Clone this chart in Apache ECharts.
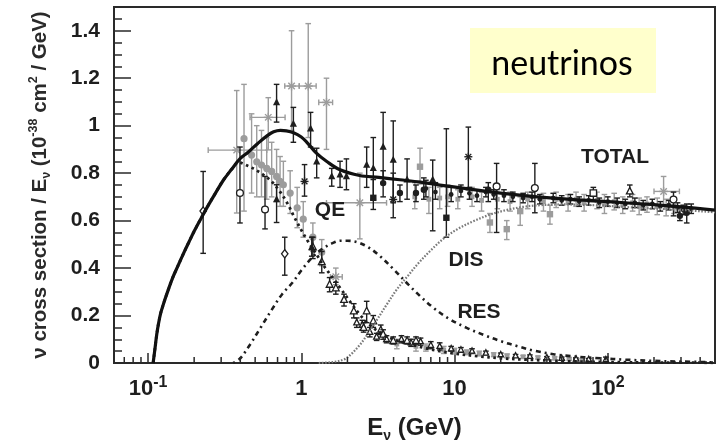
<!DOCTYPE html>
<html>
<head>
<meta charset="utf-8">
<script src="https://cdn.jsdelivr.net/npm/echarts@6/dist/echarts.min.js"></script>
<style>
  html, body { margin: 0; padding: 0; background: #ffffff; }
  #chart { width: 722px; height: 448px; }
</style>
</head>
<body>
<div id="chart"></div>
<script>
// ---- Model curves: neutrino energy (GeV) and cross section / E (1e-38 cm^2/GeV)
const totalE = [0.108, 0.111, 0.114, 0.117, 0.121, 0.127, 0.135, 0.145, 0.157, 0.17, 0.185, 0.2, 0.22, 0.245, 0.275, 0.31, 0.35, 0.4, 0.45, 0.52, 0.6, 0.66, 0.73, 0.8, 0.89, 1.0, 1.08, 1.26, 1.46, 1.79, 2.4, 3.2, 4.4, 6.0, 9.3, 20, 42, 89, 190, 500];
const totalV = [0, 0.06, 0.12, 0.165, 0.21, 0.255, 0.305, 0.36, 0.41, 0.46, 0.51, 0.555, 0.605, 0.66, 0.715, 0.77, 0.815, 0.862, 0.888, 0.925, 0.958, 0.974, 0.98, 0.978, 0.97, 0.952, 0.932, 0.883, 0.85, 0.814, 0.79, 0.782, 0.772, 0.762, 0.744, 0.716, 0.696, 0.682, 0.668, 0.644];

const qeE = [0.108, 0.111, 0.114, 0.117, 0.121, 0.127, 0.135, 0.145, 0.157, 0.17, 0.185, 0.2, 0.22, 0.245, 0.275, 0.31, 0.35, 0.39, 0.45, 0.5, 0.56, 0.64, 0.72, 0.8, 0.9, 1.0, 1.1, 1.25, 1.4, 1.6, 1.8, 2.1, 2.4, 2.8, 3.4, 4.2, 5.1, 6.5, 8, 10, 14, 20, 30, 50, 100, 200, 500];
const qeV = [0, 0.06, 0.12, 0.165, 0.21, 0.255, 0.305, 0.36, 0.41, 0.46, 0.51, 0.555, 0.605, 0.66, 0.715, 0.77, 0.815, 0.845, 0.83, 0.815, 0.795, 0.765, 0.725, 0.68, 0.615, 0.56, 0.515, 0.46, 0.41, 0.36, 0.315, 0.255, 0.205, 0.16, 0.12, 0.095, 0.079, 0.062, 0.05, 0.04, 0.029, 0.02, 0.014, 0.008, 0.004, 0.002, 0.001];

const resE = [0.36, 0.4, 0.46, 0.55, 0.65, 0.75, 0.88, 1.0, 1.2, 1.4, 1.6, 1.8, 2.0, 2.3, 2.7, 3.2, 4.0, 5.0, 6.0, 7.2, 9, 12, 16, 20, 26, 33, 45, 55, 70, 90, 130, 200, 300, 500];
const resV = [0, 0.02, 0.075, 0.155, 0.23, 0.29, 0.34, 0.39, 0.45, 0.485, 0.505, 0.515, 0.515, 0.51, 0.49, 0.455, 0.395, 0.33, 0.28, 0.235, 0.19, 0.148, 0.115, 0.092, 0.07, 0.052, 0.036, 0.03, 0.024, 0.02, 0.014, 0.009, 0.006, 0.003];

const disE = [1.3, 1.6, 1.9, 2.1, 2.4, 2.7, 3.1, 3.6, 4.2, 5.0, 5.8, 7.0, 8.5, 10.5, 13, 17, 22, 28, 36, 50, 80, 150, 300, 500];
const disV = [0, 0.004, 0.015, 0.035, 0.075, 0.12, 0.18, 0.245, 0.31, 0.37, 0.42, 0.475, 0.525, 0.565, 0.595, 0.625, 0.645, 0.658, 0.665, 0.668, 0.665, 0.655, 0.645, 0.635];

// ---- Measurements: [E, value, errLow, errHigh, (E low, E high)]
const blackTri = [
  [0.69, 1.098, 1.015, 1.174], [0.69, 0.689, 0.592, 0.751], [0.888, 1.007, 0.93, 1.077],
  [1.15, 0.987, 0.91, 1.056], [1.26, 0.848, 0.78, 0.905], [1.58, 0.786, 0.745, 0.82],
  [1.79, 0.793, 0.74, 0.85], [1.97, 0.786, 0.73, 0.86], [2.67, 0.834, 0.74, 0.91],
  [2.95, 0.82, 0.69, 0.95], [3.42, 0.91, 0.758, 1.056], [3.98, 0.855, 0.675, 1.02],
  [4.9, 0.772, 0.69, 0.86], [7.2, 0.772, 0.557, 0.855], [1.17, 0.488, 0.45, 0.53]
];
const blackDot = [
  [3.42, 0.758, 0.70, 0.81], [4.4, 0.716, 0.68, 0.75], [5.6, 0.716, 0.68, 0.75],
  [6.3, 0.73, 0.69, 0.78], [16.6, 0.73, 0.68, 0.76], [295, 0.62, 0.60, 0.66], [327, 0.633, 0.59, 0.67]
];
const blackSq = [[2.95, 0.696, 0.647, 0.773], [8.84, 0.612, 0.53, 0.987]];
const blackRing = [
  [0.398, 0.716, 0.59, 0.91], [0.58, 0.647, 0.565, 0.786], [18.8, 0.744, 0.55, 0.841],
  [33.4, 0.737, 0.633, 0.841], [268, 0.689, 0.62, 0.72]
];
const blackDiamond = [[0.229, 0.64, 0.462, 0.807], [0.78, 0.46, 0.37, 0.53]];
const blackOpenSq = [[80.4, 0.716, 0.68, 0.74]];
const blackStar = [[1.05, 0.765, 0.703, 0.836], [3.98, 0.689, 0.612, 0.80], [12.3, 0.869, 0.73, 0.994]];
const qeOpenTri = [
  [1.19, 0.488, 0.44, 0.53], [1.36, 0.425, 0.38, 0.47], [1.53, 0.33, 0.30, 0.36],
  [1.68, 0.315, 0.29, 0.34], [1.9, 0.266, 0.24, 0.29], [2.2, 0.218, 0.19, 0.25],
  [2.67, 0.218, 0.17, 0.26], [2.55, 0.148, 0.13, 0.17], [2.95, 0.176, 0.15, 0.20],
  [3.42, 0.12, 0.10, 0.14], [3.98, 0.093, 0.08, 0.11], [4.9, 0.093, 0.08, 0.11],
  [5.6, 0.093, 0.08, 0.11], [139, 0.723, 0.70, 0.75]
];
const qeMidBlack = [
  [2.3, 0.17, 0.15, 0.19], [2.5, 0.16, 0.14, 0.18], [2.8, 0.13, 0.11, 0.15],
  [3.1, 0.11, 0.095, 0.125], [3.3, 0.14, 0.12, 0.16], [3.6, 0.10, 0.085, 0.115]
];
const greyDot = [
  [0.423, 0.945, 0.64, 1.174], [0.474, 0.876, 0.716, 1.05], [0.512, 0.848, 0.70, 1.0],
  [0.55, 0.834, 0.70, 0.98], [0.595, 0.82, 0.69, 0.95], [0.641, 0.807, 0.70, 0.93],
  [0.69, 0.786, 0.68, 0.90], [0.727, 0.765, 0.66, 0.87], [0.764, 0.751, 0.66, 0.85],
  [0.846, 0.716, 0.63, 0.81], [0.94, 0.654, 0.57, 0.74], [1.03, 0.606, 0.53, 0.68],
  [1.19, 0.53, 0.47, 0.59], [1.36, 0.467, 0.41, 0.52]
];
const greyStar = [
  [0.379, 0.897, 0.632, 1.148, 0.247, 0.595], [0.609, 1.035, 0.898, 1.118, 0.463, 0.784],
  [0.864, 1.167, 0.98, 1.40, 0.78, 0.97], [1.11, 1.167, 0.95, 1.43, 0.97, 1.25],
  [1.46, 1.098, 0.90, 1.20, 1.30, 1.60], [1.68, 0.363, 0.33, 0.40, 1.55, 1.85],
  [2.41, 0.675, 0.523, 0.80, 1.46, 3.6], [231, 0.723, 0.66, 0.786, 200, 293]
];
const greySq = [
  [5.95, 0.827, 0.754, 0.905], [17.0, 0.592, 0.55, 0.63], [21.9, 0.564, 0.52, 0.60],
  [26.8, 0.64, 0.58, 0.70], [41.9, 0.627, 0.585, 0.665]
];
const blackHi = [
  [6.5, 0.735, 0.70, 0.77], [7.5, 0.72, 0.69, 0.76], [9.5, 0.71, 0.68, 0.74], [11, 0.725, 0.70, 0.75],
  [12.5, 0.715, 0.69, 0.74], [14, 0.705, 0.68, 0.73], [16, 0.72, 0.70, 0.74], [18, 0.71, 0.69, 0.73],
  [21, 0.705, 0.68, 0.73], [24, 0.70, 0.68, 0.72], [28, 0.695, 0.675, 0.715], [32, 0.70, 0.68, 0.72],
  [36, 0.69, 0.67, 0.71], [44, 0.695, 0.675, 0.715], [50, 0.685, 0.665, 0.705], [57, 0.69, 0.67, 0.71],
  [65, 0.68, 0.66, 0.70], [75, 0.685, 0.665, 0.705], [88, 0.675, 0.655, 0.695], [100, 0.68, 0.66, 0.70],
  [115, 0.675, 0.655, 0.695], [130, 0.67, 0.65, 0.69], [150, 0.675, 0.655, 0.695], [170, 0.665, 0.645, 0.685],
  [195, 0.67, 0.65, 0.69], [220, 0.66, 0.64, 0.68], [250, 0.665, 0.645, 0.685], [285, 0.655, 0.635, 0.675],
  [310, 0.645, 0.625, 0.665], [350, 0.65, 0.63, 0.67]
];
const greyHi = [
  [5.5, 0.70, 0.65, 0.76], [6.8, 0.69, 0.63, 0.74], [8, 0.695, 0.65, 0.74], [9, 0.70, 0.66, 0.75],
  [10.5, 0.69, 0.65, 0.73], [13, 0.70, 0.66, 0.74], [15, 0.685, 0.64, 0.72], [19, 0.69, 0.65, 0.73],
  [23, 0.68, 0.64, 0.72], [30, 0.69, 0.65, 0.72], [38, 0.68, 0.64, 0.715], [46, 0.69, 0.655, 0.72],
  [55, 0.675, 0.64, 0.71], [62, 0.69, 0.66, 0.72], [70, 0.675, 0.64, 0.71], [85, 0.685, 0.65, 0.72],
  [95, 0.67, 0.63, 0.71], [110, 0.68, 0.645, 0.715], [125, 0.665, 0.63, 0.70], [145, 0.675, 0.64, 0.71],
  [160, 0.66, 0.625, 0.695], [180, 0.67, 0.635, 0.70], [210, 0.66, 0.625, 0.695], [240, 0.655, 0.62, 0.69],
  [270, 0.66, 0.63, 0.69]
];
const qeHiBlack = [
  [4.5, 0.10, 0.085, 0.115], [5.2, 0.085, 0.07, 0.10], [6.0, 0.09, 0.075, 0.105], [7.0, 0.075, 0.06, 0.09],
  [8.0, 0.07, 0.055, 0.085], [9.5, 0.06, 0.05, 0.07], [11, 0.055, 0.045, 0.065], [13, 0.05, 0.04, 0.06],
  [16, 0.042, 0.035, 0.05], [20, 0.035, 0.028, 0.042], [25, 0.03, 0.024, 0.036], [31, 0.028, 0.022, 0.034],
  [40, 0.022, 0.017, 0.027], [50, 0.02, 0.015, 0.025], [62, 0.017, 0.013, 0.021], [75, 0.015, 0.011, 0.019],
  [97, 0.014, 0.005, 0.025]
];
const qeHiGrey = [
  [4.2, 0.08, 0.06, 0.10], [5.6, 0.07, 0.05, 0.09], [6.5, 0.065, 0.05, 0.08], [8.5, 0.055, 0.04, 0.07],
  [10, 0.05, 0.038, 0.062], [12, 0.045, 0.035, 0.055], [14.5, 0.04, 0.03, 0.05], [18, 0.035, 0.027, 0.043],
  [22, 0.03, 0.022, 0.038], [28, 0.026, 0.02, 0.032], [35, 0.023, 0.017, 0.029], [45, 0.02, 0.014, 0.026],
  [56, 0.017, 0.012, 0.022], [68, 0.014, 0.01, 0.018]
];

// ---- Axis ticks and labels
const xTickExp = [-1, 0, 1, 2];
const xTickText = ['10{sup|-1}', '1', '10', '10{sup|2}'];
const xMinorTicks = [0.07, 0.08, 0.09, 0.2, 0.3, 0.4, 0.5, 0.6, 0.7, 0.8, 0.9, 2, 3, 4, 5, 6, 7, 8, 9, 20, 30, 40, 50, 60, 70, 80, 90, 200, 300, 400];
const yTickText = ['0', '0.2', '0.4', '0.6', '0.8', '1', '1.2', '1.4'];

const INK = '#1e1e1e';
const GREY = '#9c9c9c';
const FONT = '"Liberation Sans", Arial, Helvetica, sans-serif';

function markerShapes(kind, x, y, r, color) {
  const line = (x1, y1, x2, y2) => ({ type: 'line', shape: { x1, y1, x2, y2 }, style: { stroke: color, lineWidth: 1.4 } });
  switch (kind) {
    case 'tri':
      return [{ type: 'polygon', shape: { points: [[x, y - r * 1.25], [x - r * 1.05, y + r * 0.8], [x + r * 1.05, y + r * 0.8]] }, style: { fill: color } }];
    case 'triOpen':
      return [{ type: 'polygon', shape: { points: [[x, y - r * 1.25], [x - r * 1.05, y + r * 0.8], [x + r * 1.05, y + r * 0.8]] }, style: { fill: '#fff', stroke: color, lineWidth: 1.3 } }];
    case 'dot':
      return [{ type: 'circle', shape: { cx: x, cy: y, r: r }, style: { fill: color } }];
    case 'ring':
      return [{ type: 'circle', shape: { cx: x, cy: y, r: r }, style: { fill: '#fff', stroke: color, lineWidth: 1.3 } }];
    case 'sq':
      return [{ type: 'rect', shape: { x: x - r, y: y - r, width: 2 * r, height: 2 * r }, style: { fill: color } }];
    case 'sqOpen':
      return [{ type: 'rect', shape: { x: x - r, y: y - r, width: 2 * r, height: 2 * r }, style: { fill: '#fff', stroke: color, lineWidth: 1.3 } }];
    case 'diamondOpen':
      return [{ type: 'polygon', shape: { points: [[x, y - r * 1.3], [x - r, y], [x, y + r * 1.3], [x + r, y]] }, style: { fill: '#fff', stroke: color, lineWidth: 1.3 } }];
    case 'star': {
      const d = r * 0.72;
      return [line(x, y - r, x, y + r), line(x - d, y - d, x + d, y + d), line(x - d, y + d, x + d, y - d), line(x - r, y, x + r, y)];
    }
    default:
      return [];
  }
}

function measurementSeries(data, kind, color, size, z) {
  return {
    type: 'custom',
    coordinateSystem: 'cartesian2d',
    dimensions: ['E', 'v', 'lo', 'hi', 'elo', 'ehi'],
    encode: { x: 0, y: 1 },
    data: data,
    z: z,
    silent: true,
    renderItem: function (params, api) {
      const E = api.value(0), v = api.value(1);
      const p = api.coord([E, v]);
      const pLo = api.coord([E, api.value(2)]);
      const pHi = api.coord([E, api.value(3)]);
      const bar = { stroke: color, lineWidth: 1.4 };
      const cap = 2.8;
      const children = [
        { type: 'line', shape: { x1: p[0], y1: pLo[1], x2: p[0], y2: pHi[1] }, style: bar },
        { type: 'line', shape: { x1: p[0] - cap, y1: pLo[1], x2: p[0] + cap, y2: pLo[1] }, style: bar },
        { type: 'line', shape: { x1: p[0] - cap, y1: pHi[1], x2: p[0] + cap, y2: pHi[1] }, style: bar }
      ];
      const eLo = api.value(4), eHi = api.value(5);
      if (isFinite(eLo) && isFinite(eHi) && eLo > 0 && eHi > 0) {
        const a = api.coord([eLo, v]), b = api.coord([eHi, v]);
        children.push({ type: 'line', shape: { x1: a[0], y1: p[1], x2: b[0], y2: p[1] }, style: bar });
        children.push({ type: 'line', shape: { x1: a[0], y1: p[1] - cap, x2: a[0], y2: p[1] + cap }, style: bar });
        children.push({ type: 'line', shape: { x1: b[0], y1: p[1] - cap, x2: b[0], y2: p[1] + cap }, style: bar });
      }
      markerShapes(kind, p[0], p[1], size, color).forEach(s => children.push(s));
      return { type: 'group', children: children };
    }
  };
}

function curveSeries(name, xs, ys, color, width, dash, z) {
  return {
    name: name,
    type: 'line',
    data: xs.map((x, i) => [x, ys[i]]),
    showSymbol: false,
    symbol: 'none',
    smooth: 0.35,
    z: z,
    silent: true,
    lineStyle: { color: color, width: width, type: dash, cap: 'butt' }
  };
}

const chart = echarts.init(document.getElementById('chart'), null, { renderer: 'canvas' });

chart.setOption({
  animation: false,
  backgroundColor: '#ffffff',
  grid: { left: 114, top: 7, right: 7, bottom: 79, show: true, borderColor: '#2a2a2a', borderWidth: 2, backgroundColor: 'transparent' },
  xAxis: {
    type: 'log',
    logBase: 10,
    min: 0.06,
    max: 500,
    axisLine: { show: true, lineStyle: { color: '#2a2a2a', width: 2 } },
    axisTick: { show: true, inside: true, length: 10, lineStyle: { color: '#2a2a2a', width: 1.5 } },
    splitLine: { show: false },
    minorTick: { show: false },
    axisLabel: {
      margin: 12,
      fontSize: 22,
      lineHeight: 28,
      fontFamily: FONT,
      fontWeight: 'bold',
      color: INK,
      showMinLabel: false,
      showMaxLabel: false,
      formatter: function (v) {
        const lg = Math.log10(v);
        const e = Math.round(lg);
        if (Math.abs(lg - e) > 1e-6) return '';
        const i = xTickExp.indexOf(e);
        return i < 0 ? '' : xTickText[i];
      },
      rich: { sup: { fontSize: 16, lineHeight: 8, verticalAlign: 'top', fontWeight: 'bold', fontFamily: FONT, color: INK } }
    },
    name: 'E{sub|ν} (GeV)',
    nameLocation: 'middle',
    nameGap: 50,
    nameTextStyle: {
      fontSize: 24, fontWeight: 'bold', fontFamily: FONT, color: INK, lineHeight: 30,
      rich: { sub: { fontSize: 14, lineHeight: 16, verticalAlign: 'bottom', fontWeight: 'bold', fontFamily: FONT, color: INK } }
    }
  },
  yAxis: {
    type: 'value',
    min: 0,
    max: 1.5,
    interval: 0.2,
    axisLine: { show: true, lineStyle: { color: '#2a2a2a', width: 2 } },
    axisTick: { show: true, inside: true, length: 17, lineStyle: { color: '#2a2a2a', width: 1.5 } },
    minorTick: { show: true, splitNumber: 4, length: 8, lineStyle: { color: '#2a2a2a', width: 1.5 } },
    splitLine: { show: false },
    axisLabel: {
      margin: 14,
      fontSize: 21,
      fontFamily: FONT,
      fontWeight: 'bold',
      color: INK,
      formatter: function (v) {
        const i = Math.round(v / 0.2);
        return (Math.abs(v - i * 0.2) < 1e-6 && i < yTickText.length) ? yTickText[i] : '';
      }
    },
    name: 'ν cross section / E{sub|ν} (10{sup|-38} cm{sup|2} / GeV)',
    nameLocation: 'middle',
    nameRotate: 90,
    nameGap: 61,
    nameTextStyle: {
      fontSize: 20.5, fontWeight: 'bold', fontFamily: FONT, color: '#2a2a2a', lineHeight: 26,
      rich: {
        sub: { fontSize: 12, lineHeight: 16, verticalAlign: 'bottom', fontWeight: 'bold', fontFamily: FONT, color: '#2a2a2a' },
        sup: { fontSize: 12.5, lineHeight: 10, verticalAlign: 'top', fontWeight: 'bold', fontFamily: FONT, color: '#2a2a2a' }
      }
    }
  },
  graphic: [
    { type: 'rect', shape: { x: 470, y: 28, width: 186, height: 65 }, style: { fill: '#FFFFCC' }, z: 1 },
    { type: 'text', x: 562, y: 64, z: 2, style: { text: 'neutrinos', font: '34px Lato, "Open Sans", sans-serif', fill: '#000', textAlign: 'center', textVerticalAlign: 'middle' } },
    { type: 'text', x: 330, y: 210, z: 20, style: { text: 'QE', font: 'bold 21px ' + FONT, fill: INK, textAlign: 'center', textVerticalAlign: 'middle' } },
    { type: 'text', x: 466, y: 260, z: 20, style: { text: 'DIS', font: 'bold 21px ' + FONT, fill: INK, textAlign: 'center', textVerticalAlign: 'middle' } },
    { type: 'text', x: 479, y: 312, z: 20, style: { text: 'RES', font: 'bold 21px ' + FONT, fill: INK, textAlign: 'center', textVerticalAlign: 'middle' } },
    { type: 'text', x: 615, y: 157, z: 20, style: { text: 'TOTAL', font: 'bold 21px ' + FONT, fill: INK, textAlign: 'center', textVerticalAlign: 'middle' } }
  ],
  series: [
    // logarithmic minor ticks along the energy axis
    {
      type: 'custom',
      coordinateSystem: 'cartesian2d',
      data: xMinorTicks.map(v => [v, 0]),
      z: 30,
      silent: true,
      renderItem: function (params, api) {
        const p = api.coord([api.value(0), 0]);
        return { type: 'line', shape: { x1: p[0], y1: p[1], x2: p[0], y2: p[1] - 6 }, style: { stroke: '#2a2a2a', lineWidth: 1.5 } };
      }
    },
    measurementSeries(greyDot, 'dot', GREY, 3.6, 2),
    measurementSeries(greyStar, 'star', GREY, 4.5, 2),
    measurementSeries(greySq, 'sq', GREY, 3.2, 2),
    measurementSeries(greyHi, 'sq', GREY, 2.4, 2),
    measurementSeries(qeHiGrey, 'sq', GREY, 2.4, 2),
    measurementSeries(blackHi, 'dot', INK, 2.4, 3),
    measurementSeries(qeHiBlack, 'triOpen', INK, 2.6, 3),
    measurementSeries(qeMidBlack, 'triOpen', INK, 2.8, 3),
    measurementSeries(qeOpenTri, 'triOpen', INK, 3.2, 3),
    measurementSeries(blackTri, 'tri', INK, 3.4, 3),
    measurementSeries(blackDot, 'dot', INK, 3.2, 3),
    measurementSeries(blackSq, 'sq', INK, 3.2, 3),
    measurementSeries(blackRing, 'ring', INK, 3.4, 3),
    measurementSeries(blackDiamond, 'diamondOpen', INK, 3.2, 3),
    measurementSeries(blackOpenSq, 'sqOpen', INK, 3.2, 3),
    measurementSeries(blackStar, 'star', INK, 4, 3),
    curveSeries('DIS', disE, disV, '#7a7a7a', 2.2, [1.6, 1.6], 5),
    curveSeries('RES', resE, resV, INK, 2.6, [2, 4, 5, 4], 5),
    curveSeries('QE', qeE, qeV, INK, 2.8, [2.6, 3.6], 5),
    curveSeries('TOTAL', totalE, totalV, '#111111', 3.2, 'solid', 6)
  ]
});
</script>
</body>
</html>
